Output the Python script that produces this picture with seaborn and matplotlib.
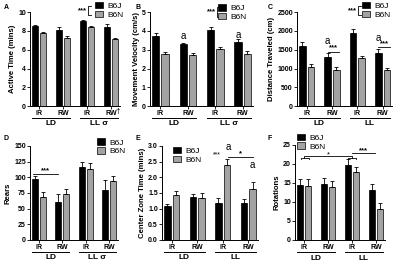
import numpy as np
import pandas as pd
import matplotlib
matplotlib.use("Agg")
import matplotlib.pyplot as plt
import matplotlib.transforms as mtransforms
from matplotlib.patches import Patch
import seaborn as sns

# ---- data ----
conditions = ["LD IR", "LD RW", "LL IR", "LL RW"]
tick_labels = ["IR", "RW", "IR", "RW"]
strains = ["B6J", "B6N"]
panel_letters = ["A", "B", "C", "D", "E", "F"]

active_b6j = [8.5, 8.05, 9.05, 8.4]
active_b6n = [7.8, 7.2, 8.4, 7.1]
active_b6j_err = [0.15, 0.4, 0.12, 0.3]
active_b6n_err = [0.12, 0.25, 0.1, 0.12]

velocity_b6j = [3.75, 3.3, 4.05, 3.4]
velocity_b6n = [2.75, 2.73, 3.05, 2.77]
velocity_b6j_err = [0.15, 0.08, 0.15, 0.15]
velocity_b6n_err = [0.12, 0.1, 0.12, 0.15]

distance_b6j = [1610, 1310, 1950, 1420]
distance_b6n = [1050, 970, 1280, 950]
distance_b6j_err = [90, 100, 100, 100]
distance_b6n_err = [80, 70, 60, 70]

rears_b6j = [97, 61, 116, 79]
rears_b6n = [68, 73, 114, 94]
rears_b6j_err = [5, 12, 9, 16]
rears_b6n_err = [9, 8, 9, 8]

center_b6j = [1.1, 1.38, 1.17, 1.17]
center_b6n = [1.42, 1.33, 2.38, 1.63]
center_b6j_err = [0.06, 0.1, 0.18, 0.15]
center_b6n_err = [0.15, 0.18, 0.22, 0.22]

rotations_b6j = [14.5, 14.7, 19.6, 13.2]
rotations_b6n = [14.2, 14.0, 17.8, 8.1]
rotations_b6j_err = [1.6, 1.5, 1.7, 1.6]
rotations_b6n_err = [1.8, 1.5, 1.5, 1.6]

GRAY = "#a3a3a3"
FONT = "Liberation Sans"
plt.rcParams["font.family"] = [FONT, "DejaVu Sans"]
plt.rcParams["axes.linewidth"] = 0.7


def bar_panel(ax, b6j, b6n, b6j_err, b6n_err, ylim, yticks, ylabel, group2, fmt=None):
    df = pd.DataFrame({
        "condition": conditions * 2,
        "strain": [strains[0]] * 4 + [strains[1]] * 4,
        "value": b6j + b6n,
    })
    sns.barplot(data=df, x="condition", y="value", hue="strain", order=conditions,
                hue_order=strains, palette=["black", GRAY], edgecolor="black",
                linewidth=0.5, width=0.68, gap=0.22, errorbar=None, legend=False, ax=ax)
    xs = []
    for cont, err in zip(ax.containers, [b6j_err, b6n_err]):
        x = [p.get_x() + p.get_width() / 2 for p in cont]
        y = [p.get_height() for p in cont]
        ax.errorbar(x, y, yerr=[np.zeros(4), err], fmt="none", ecolor="black",
                    elinewidth=0.6, capsize=1.3, capthick=0.6)
        xs.append(x)
    ax.set_xlim(-0.38, 3.38)
    ax.set_ylim(*ylim)
    ax.set_yticks(yticks)
    if fmt:
        ax.set_yticklabels([fmt.format(t) for t in yticks])
    ax.set_xticks(range(4))
    ax.set_xticklabels(tick_labels)
    ax.set_xlabel("")
    ax.set_ylabel(ylabel, fontsize=5.6, fontweight="bold", labelpad=1.5)
    ax.tick_params(axis="both", labelsize=5, width=0.6, length=2, pad=1)
    for lab in ax.get_xticklabels() + ax.get_yticklabels():
        lab.set_fontweight("bold")
    sns.despine(ax=ax, top=True, right=True)
    trans = mtransforms.blended_transform_factory(ax.transData, ax.transAxes)
    for (x0, x1), name in zip([(-0.3, 1.3), (1.7, 3.3)], ["LD", group2]):
        ax.plot([x0, x1], [-0.125, -0.125], color="black", lw=0.7,
                transform=trans, clip_on=False)
        ax.text((x0 + x1) / 2, -0.19, name, transform=trans, ha="center", va="center",
                fontsize=6, fontweight="bold")
    return xs


def legend(ax, x, y, bracket=None):
    handles = [Patch(facecolor="black", edgecolor="black", linewidth=0.5),
               Patch(facecolor=GRAY, edgecolor="black", linewidth=0.5)]
    ax.legend(handles, strains, loc="upper left", bbox_to_anchor=(x, y), frameon=False,
              fontsize=6, handlelength=1.0, handleheight=0.8, handletextpad=0.5,
              labelspacing=0.1, borderpad=0, borderaxespad=0)
    if bracket:
        bx, y0, y1 = bracket
        ax.plot([bx + 0.03, bx, bx, bx + 0.03], [y0, y0, y1, y1], color="black",
                lw=0.6, transform=ax.transAxes, clip_on=False)
        ax.text(bx - 0.01, (y0 + y1) / 2, "***", transform=ax.transAxes, ha="right",
                va="center", fontsize=5.5, fontweight="bold")


def sig_line(ax, x0, x1, y, label=None, ly=None, lx=None):
    ax.plot([x0, x1], [y, y], color="black", lw=0.6, clip_on=False)
    if label:
        ax.text(lx if lx is not None else (x0 + x1) / 2, ly, label, ha="center",
                va="center", fontsize=5.5, fontweight="bold")


def txt(ax, x, y, s, size=7):
    ax.text(x, y, s, ha="center", va="center", fontsize=size, clip_on=False)


fig = plt.figure(figsize=(4.0, 2.64), dpi=100)
axA = fig.add_axes([0.075, 0.598, 0.225, 0.356])
axB = fig.add_axes([0.375, 0.598, 0.258, 0.356])
axC = fig.add_axes([0.7425, 0.598, 0.238, 0.356])
axD = fig.add_axes([0.075, 0.091, 0.22, 0.356])
axE = fig.add_axes([0.405, 0.091, 0.24, 0.356])
axF = fig.add_axes([0.7375, 0.091, 0.225, 0.36])

# A
bar_panel(axA, active_b6j, active_b6n, active_b6j_err, active_b6n_err,
          (0, 10), range(0, 11, 2), "Active Time (mins)", "LL \u03c3")
legend(axA, 0.72, 1.11, bracket=(0.645, 1.07, 0.965))
tA = mtransforms.blended_transform_factory(axA.transData, axA.transAxes)
axA.text(3.3, -0.06, "\u2020", transform=tA, ha="center", va="center", fontsize=6)

# B
xsB = bar_panel(axB, velocity_b6j, velocity_b6n, velocity_b6j_err, velocity_b6n_err,
                (0, 5), range(0, 6), "Movement Velocity (cm/s)", "LL \u03c3")
legend(axB, 0.66, 1.085, bracket=(0.645, 1.05, 0.95))
txt(axB, xsB[0][1], 3.72, "a")
txt(axB, xsB[0][3], 3.8, "a")

# C
xsC = bar_panel(axC, distance_b6j, distance_b6n, distance_b6j_err, distance_b6n_err,
                (0, 2500), range(0, 2501, 500), "Distance Traveled (cm)", "LL")
legend(axC, 0.68, 1.11, bracket=(0.645, 1.065, 0.97))
for i, ya, yl in [(1, 1740, 1450), (3, 1800, 1560)]:
    sig_line(axC, xsC[0][i], xsC[1][i] + 0.12, yl, "***", yl + 90)
    txt(axC, xsC[0][i], ya, "a")

# D
xsD = bar_panel(axD, rears_b6j, rears_b6n, rears_b6j_err, rears_b6n_err,
                (0, 150), range(0, 151, 25), "Rears", "LL \u03c3")
legend(axD, 0.76, 1.08)
sig_line(axD, -0.25, 0.82, 106, "***", 111, 0.3)

# E
xsE = bar_panel(axE, center_b6j, center_b6n, center_b6j_err, center_b6n_err,
                (0, 3.0), np.arange(0, 3.01, 0.5), "Center Zone Time (mins)", "LL",
                fmt="{:.1f}")
legend(axE, 0.11, 0.99)
txt(axE, xsE[0][2] - 0.05, 2.72, "***", 5)
txt(axE, xsE[1][2] + 0.03, 2.98, "a")
sig_line(axE, xsE[1][2] + 0.05, xsE[1][3], 2.66, "*", 2.74)
txt(axE, xsE[1][3], 2.38, "a")

# F
xsF = bar_panel(axF, rotations_b6j, rotations_b6n, rotations_b6j_err, rotations_b6n_err,
                (0, 25), range(0, 26, 5), "Rotations", "LL")
legend(axF, 0.02, 1.12)
for a, b in [(-0.15, 0.2), (1.85, 2.15)]:
    axF.plot([a, a, b, b], [21.3, 21.6, 21.6, 21.3], color="black", lw=0.6)
axF.plot([0.0, 0.0, 2.0, 2.0], [21.6, 22.1, 22.1, 21.6], color="black", lw=0.6)
txt(axF, 1.0, 22.4, "*", 5.5)
sig_line(axF, 2.0, 2.95, 23.0, "***", 23.5)

# panel letters in the top-left corner of each cell
for letter, (fx, fy) in zip(panel_letters, [(0.01, 0.985), (0.34, 0.985), (0.67, 0.985),
                                             (0.01, 0.49), (0.34, 0.49), (0.67, 0.49)]):
    fig.text(fx, fy, letter, fontsize=5, fontweight="bold", ha="left", va="top")

fig.savefig("out.png", dpi=100)
